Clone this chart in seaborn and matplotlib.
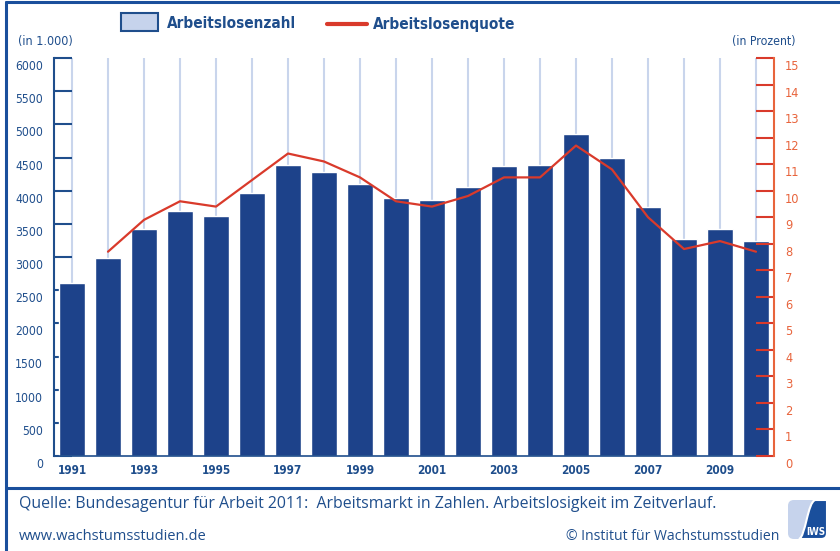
import numpy as np
import pandas as pd
import matplotlib
matplotlib.use("Agg")
import matplotlib.pyplot as plt
import seaborn as sns
from matplotlib.patches import Rectangle, FancyBboxPatch, PathPatch
from matplotlib.lines import Line2D
from matplotlib.path import Path
from matplotlib.transforms import ScaledTranslation

# --- data ---
years = [str(y) for y in range(1991, 2011)]
# Arbeitslosenzahl, in 1.000
arbeitslose = [2602, 2979, 3419, 3698, 3612, 3965, 4384, 4281, 4100, 3890,
               3853, 4061, 4377, 4381, 4861, 4487, 3760, 3268, 3423, 3238]
# Arbeitslosenquote, in Prozent (no value shown for 1991)
quote_years = [str(y) for y in range(1992, 2011)]
quote = [7.7, 8.9, 9.6, 9.4, 10.4, 11.4, 11.1, 10.5, 9.6, 9.4,
         9.8, 10.5, 10.5, 11.7, 10.8, 9.0, 7.8, 8.1, 7.7]
left_ticks = list(range(0, 6001, 500))
right_ticks = list(range(0, 16))

BLUE = "#1f4e8c"
BAR = "#1d428a"
FRAME = "#1a4f9c"
GRID = "#c9d5ec"
RED = "#d93a2b"
ORANGE = "#e8643c"

sns.set_style("white")
# the original uses a narrow font, DejaVu Sans Condensed is the closest here
plt.rcParams["font.family"] = ["DejaVu Sans"]
plt.rcParams["font.stretch"] = "condensed"

W, H = 840, 551
fig = plt.figure(figsize=(W / 100, H / 100), dpi=100)


def fx(x):
    return x / W


def fy(y):
    return 1 - y / H


ax = fig.add_axes([fx(54), fy(456), 720 / W, 398 / H])

bars_df = pd.DataFrame({"Jahr": years, "Arbeitslose": arbeitslose})
sns.barplot(data=bars_df, x="Jahr", y="Arbeitslose", color=BAR,
            saturation=1, width=0.72, ax=ax, zorder=2)

ax.set_xlim(-0.5, len(years) - 0.5)
ax.set_ylim(0, 6000)
ax.set_xlabel("")
ax.set_ylabel("")
ax.set_axisbelow(True)
ax.set_xticks(range(len(years)))
ax.set_xticklabels([y if i % 2 == 0 else "" for i, y in enumerate(years)],
                   fontsize=8.5, fontweight="bold", color=BLUE)
ax.tick_params(axis="x", length=0, pad=6)
ax.xaxis.grid(True, color=GRID, linewidth=1.5)
ax.yaxis.grid(False)

ax.set_yticks(left_ticks)
ax.set_yticklabels([str(t) for t in left_ticks], fontsize=8.7, color=BLUE)
ax.tick_params(axis="y", direction="in", length=13, width=1.5, color=BLUE,
               pad=8, left=True)
for s in ["top", "right"]:
    ax.spines[s].set_visible(False)
ax.spines["left"].set_color(BLUE)
ax.spines["left"].set_linewidth(1.5)
ax.spines["bottom"].set_color(BLUE)
ax.spines["bottom"].set_linewidth(1.2)

# right axis: rate
ax2 = ax.twinx()
pos = [years.index(y) for y in quote_years]
sns.lineplot(x=pos, y=quote, color=RED, linewidth=1.6, ax=ax2)
ax2.set_ylim(0, 15)
ax2.set_xlim(-0.5, len(years) - 0.5)
ax2.set_yticks(right_ticks)
ax2.set_yticklabels([str(t) for t in right_ticks], fontsize=9.2, color=ORANGE)
ax2.tick_params(axis="y", direction="in", length=13, width=1.5, color=RED,
                pad=8, right=True)
for s in ["top", "left", "bottom"]:
    ax2.spines[s].set_visible(False)
ax2.spines["right"].set_color(ORANGE)
ax2.spines["right"].set_linewidth(1.5)
ax2.grid(False)

# tick labels sit a bit below their ticks in the original
shift = ScaledTranslation(0, -7 / 100, fig.dpi_scale_trans)
for lab in ax.get_yticklabels() + ax2.get_yticklabels():
    lab.set_transform(lab.get_transform() + shift)

# --- legend / unit labels ---
fig.add_artist(Rectangle((fx(121), fy(31)), 37 / W, 18 / H,
                         facecolor="#c6d3ec", edgecolor=BLUE, linewidth=1.5,
                         transform=fig.transFigure))
fig.text(fx(167), fy(24), "Arbeitslosenzahl", fontsize=11, fontweight="bold",
         color=BLUE, va="center", ha="left")
fig.add_artist(Line2D([fx(327), fx(367)], [fy(24), fy(24)], color=RED,
                      linewidth=3, solid_capstyle="round",
                      transform=fig.transFigure))
fig.text(fx(373), fy(24), "Arbeitslosenquote", fontsize=11, fontweight="bold",
         color=BLUE, va="center", ha="left")
fig.text(fx(18), fy(42), "(in 1.000)", fontsize=9, color=BLUE,
         va="center", ha="left")
fig.text(fx(795), fy(42), "(in Prozent)", fontsize=8.8, color=BLUE,
         va="center", ha="right")

# --- frame and footer ---
fig.add_artist(Line2D([fx(6), fx(6)], [0, fy(1.5)], color=FRAME, linewidth=2.2,
                      transform=fig.transFigure))
fig.add_artist(Line2D([fx(6), 1], [fy(1.5), fy(1.5)], color=FRAME,
                      linewidth=2.2, transform=fig.transFigure))
fig.add_artist(Line2D([fx(6), 1], [fy(488), fy(488)], color=FRAME,
                      linewidth=2.2, transform=fig.transFigure))

foot_font = ["Open Sans", "DejaVu Sans"]
fig.text(fx(19), fy(504), "Quelle: Bundesagentur für Arbeit 2011:  Arbeitsmarkt "
         "in Zahlen. Arbeitslosigkeit im Zeitverlauf.", fontsize=11.45,
         color=BLUE, va="center", ha="left", family=foot_font, stretch="normal")
fig.text(fx(19), fy(536), "www.wachstumsstudien.de", fontsize=10.5,
         color=BLUE, va="center", ha="left", family=foot_font, stretch="normal")
fig.text(fx(779), fy(536), "© Institut für Wachstumsstudien", fontsize=10.1,
         color=BLUE, va="center", ha="right", family=foot_font, stretch="normal")

# small IWS logo
lax = fig.add_axes([fx(788), fy(539), 39 / W, 39 / H])
lax.set_xlim(0, 1)
lax.set_ylim(0, 1)
lax.axis("off")
lax.add_patch(FancyBboxPatch((0.0, 0.0), 1.0, 1.0,
                             boxstyle="round,pad=0,rounding_size=0.15",
                             facecolor="#c6d3ec", edgecolor="none"))
verts = [(0.7, 1.0), (0.5, 0.95), (0.45, 0.05), (0.28, 0.0),
         (0.85, 0.0), (1.0, 0.0), (1.0, 0.15), (1.0, 1.0), (0.7, 1.0)]
codes = [Path.MOVETO, Path.CURVE4, Path.CURVE4, Path.CURVE4,
         Path.LINETO, Path.CURVE3, Path.CURVE3, Path.LINETO, Path.CLOSEPOLY]
lax.add_patch(PathPatch(Path(verts, codes), facecolor="#1a4f9c",
                        edgecolor="white", linewidth=1.5))
lax.text(0.72, 0.17, "IWS", color="white", fontsize=7, fontweight="bold",
         ha="center", va="center")

fig.savefig("out.png", dpi=100)
